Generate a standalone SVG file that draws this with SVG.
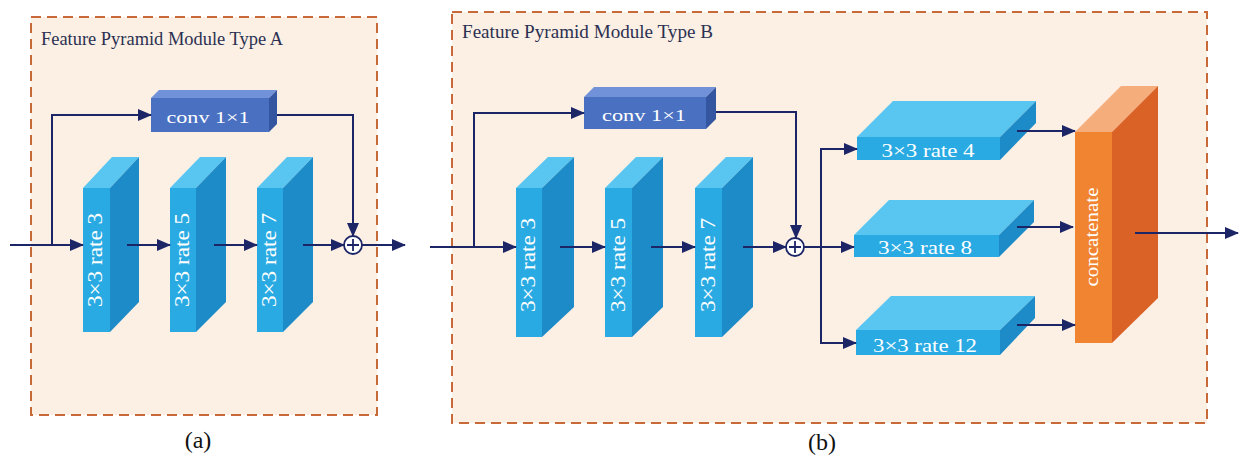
<svg xmlns="http://www.w3.org/2000/svg" width="1239" height="464" viewBox="0 0 1239 464">
<style>
.panel{fill:#fcefe4;stroke:#c8693a;stroke-width:2;stroke-dasharray:10 6}
.title{font-family:"Liberation Serif",serif;font-size:18px;fill:#2b3152}
.cap{font-family:"Liberation Serif",serif;font-size:24px;fill:#111}
.bf{fill:#29aae2}.bt{fill:#58c6f1}.br{fill:#1d8bc8}
.cf{fill:#4a70c2}.ct{fill:#7192d8}.cr{fill:#34559f}
.of{fill:#f08430}.ot{fill:#f5ad7c}.or{fill:#db6226}
.lbl{font-family:"Liberation Serif",serif;fill:#ffffff;text-anchor:middle}
.edge{fill:none;stroke:#1c2566;stroke-width:2}
.sum{fill:#ffffff;stroke:#1c2566;stroke-width:1.8}
</style>
<defs>
<marker id="ah" markerUnits="userSpaceOnUse" markerWidth="14" markerHeight="12" refX="13" refY="6" orient="auto">
<path d="M0,0 L14,6 L0,12 Z" fill="#1c2566"/>
</marker>
</defs>
<rect width="1239" height="464" fill="#ffffff"/>

<g id="panelA">
<rect class="panel" x="31" y="17" width="346" height="398"/>
<text class="title" x="41" y="45" textLength="242" lengthAdjust="spacingAndGlyphs">Feature Pyramid Module Type A</text>
<text class="cap" x="198" y="448" text-anchor="middle">(a)</text>
</g>
<g id="panelB">
<rect class="panel" x="452" y="12" width="755" height="411"/>
<text class="title" x="462" y="38" textLength="251" lengthAdjust="spacingAndGlyphs">Feature Pyramid Module Type B</text>
<text class="cap" x="822" y="450" text-anchor="middle">(b)</text>
</g>

<g id="A_conv">
<polygon class="ct" points="151,98 269,98 277,90 159,90"/>
<polygon class="cr" points="269,98 277,90 277,124 269,132"/>
<rect class="cf" x="151" y="98" width="118" height="34"/>
<text class="lbl" x="208" y="123" font-size="17" textLength="83" lengthAdjust="spacingAndGlyphs">conv 1×1</text>
</g>
<g id="A_r3">
<polygon class="bt" points="83,188 110,188 139,157 112,157"/>
<polygon class="br" points="110,188 139,157 139,302 110,332"/>
<rect class="bf" x="83" y="188" width="27" height="144"/>
<text class="lbl" font-size="20" transform="translate(102,260) rotate(-90)" textLength="94" lengthAdjust="spacingAndGlyphs">3×3 rate 3</text>
</g>
<g id="A_r5">
<polygon class="bt" points="170,188 196,188 226,157 200,157"/>
<polygon class="br" points="196,188 226,157 226,302 196,332"/>
<rect class="bf" x="170" y="188" width="26" height="144"/>
<text class="lbl" font-size="20" transform="translate(189,260) rotate(-90)" textLength="94" lengthAdjust="spacingAndGlyphs">3×3 rate 5</text>
</g>
<g id="A_r7">
<polygon class="bt" points="257,188 283,188 313,157 287,157"/>
<polygon class="br" points="283,188 313,157 313,302 283,332"/>
<rect class="bf" x="257" y="188" width="26" height="144"/>
<text class="lbl" font-size="20" transform="translate(276,260) rotate(-90)" textLength="94" lengthAdjust="spacingAndGlyphs">3×3 rate 7</text>
</g>
<g id="A_sum">
<circle class="sum" cx="353" cy="245" r="9"/>
<path d="M353,239 V251 M347,245 H359" stroke="#1c2566" stroke-width="1.8"/>
</g>

<g id="B_conv">
<polygon class="ct" points="584,97 706,97 716,87 594,87"/>
<polygon class="cr" points="706,97 716,87 716,119 706,129"/>
<rect class="cf" x="584" y="97" width="122" height="32"/>
<text class="lbl" x="644" y="121" font-size="17" textLength="84" lengthAdjust="spacingAndGlyphs">conv 1×1</text>
</g>
<g id="B_r3">
<polygon class="bt" points="516,188 542,188 574,157 548,157"/>
<polygon class="br" points="542,188 574,157 574,307 542,337"/>
<rect class="bf" x="516" y="188" width="26" height="149"/>
<text class="lbl" font-size="20" transform="translate(535,265) rotate(-90)" textLength="94" lengthAdjust="spacingAndGlyphs">3×3 rate 3</text>
</g>
<g id="B_r5">
<polygon class="bt" points="605,188 632,188 663,157 636,157"/>
<polygon class="br" points="632,188 663,157 663,307 632,337"/>
<rect class="bf" x="605" y="188" width="27" height="149"/>
<text class="lbl" font-size="20" transform="translate(625,265) rotate(-90)" textLength="94" lengthAdjust="spacingAndGlyphs">3×3 rate 5</text>
</g>
<g id="B_r7">
<polygon class="bt" points="695,188 722,188 753,157 726,157"/>
<polygon class="br" points="722,188 753,157 753,307 722,337"/>
<rect class="bf" x="695" y="188" width="27" height="149"/>
<text class="lbl" font-size="20" transform="translate(715,265) rotate(-90)" textLength="94" lengthAdjust="spacingAndGlyphs">3×3 rate 7</text>
</g>
<g id="B_sum">
<circle class="sum" cx="795" cy="247" r="9"/>
<path d="M795,241 V253 M789,247 H801" stroke="#1c2566" stroke-width="1.8"/>
</g>
<g id="B_rate4">
<polygon class="bt" points="857,137 1000,137 1036,101 893,101"/>
<polygon class="br" points="1000,137 1036,101 1036,123 1000,160"/>
<rect class="bf" x="857" y="137" width="143" height="23"/>
<text class="lbl" x="928" y="157" font-size="19" textLength="93" lengthAdjust="spacingAndGlyphs">3×3 rate 4</text>
</g>
<g id="B_rate8">
<polygon class="bt" points="854,235 999,235 1034,200 889,200"/>
<polygon class="br" points="999,235 1034,200 1034,222 999,257"/>
<rect class="bf" x="854" y="235" width="145" height="22"/>
<text class="lbl" x="925" y="254" font-size="19" textLength="94" lengthAdjust="spacingAndGlyphs">3×3 rate 8</text>
</g>
<g id="B_rate12">
<polygon class="bt" points="856,330 1000,330 1035,296 891,296"/>
<polygon class="br" points="1000,330 1035,296 1035,318 1000,355"/>
<rect class="bf" x="856" y="330" width="144" height="25"/>
<text class="lbl" x="925" y="352" font-size="19" textLength="104" lengthAdjust="spacingAndGlyphs">3×3 rate 12</text>
</g>
<g id="B_concat">
<polygon class="ot" points="1075,132 1112,132 1158,86 1121,86"/>
<polygon class="or" points="1112,132 1158,86 1158,298 1112,343"/>
<rect class="of" x="1075" y="132" width="37" height="211"/>
<text class="lbl" font-size="19" transform="translate(1098,237) rotate(-90)" textLength="99" lengthAdjust="spacingAndGlyphs">concatenate</text>
</g>

<g id="connectors">
<path class="edge" d="M10,245 H83" marker-end="url(#ah)"/>
<path class="edge" d="M52,245 V115 H151" marker-end="url(#ah)"/>
<path class="edge" d="M277,115 H353 V236" marker-end="url(#ah)"/>
<path class="edge" d="M127,245 H170" marker-end="url(#ah)"/>
<path class="edge" d="M214,245 H257" marker-end="url(#ah)"/>
<path class="edge" d="M303,245 H344" marker-end="url(#ah)"/>
<path class="edge" d="M362,245 H405" marker-end="url(#ah)"/>

<path class="edge" d="M430,247 H516" marker-end="url(#ah)"/>
<path class="edge" d="M474,247 V113 H584" marker-end="url(#ah)"/>
<path class="edge" d="M716,112 H796 V238" marker-end="url(#ah)"/>
<path class="edge" d="M560,247 H605" marker-end="url(#ah)"/>
<path class="edge" d="M651,247 H695" marker-end="url(#ah)"/>
<path class="edge" d="M743,247 H786" marker-end="url(#ah)"/>
<path class="edge" d="M804,247 H854" marker-end="url(#ah)"/>
<path class="edge" d="M821,149 V343"/>
<path class="edge" d="M820,149 H857" marker-end="url(#ah)"/>
<path class="edge" d="M820,343 H856" marker-end="url(#ah)"/>
<path class="edge" d="M1017,131 H1075" marker-end="url(#ah)"/>
<path class="edge" d="M1017,227 H1073" marker-end="url(#ah)"/>
<path class="edge" d="M1017,325 H1075" marker-end="url(#ah)"/>
<path class="edge" d="M1135,233 H1238" marker-end="url(#ah)"/>
</g>
</svg>
